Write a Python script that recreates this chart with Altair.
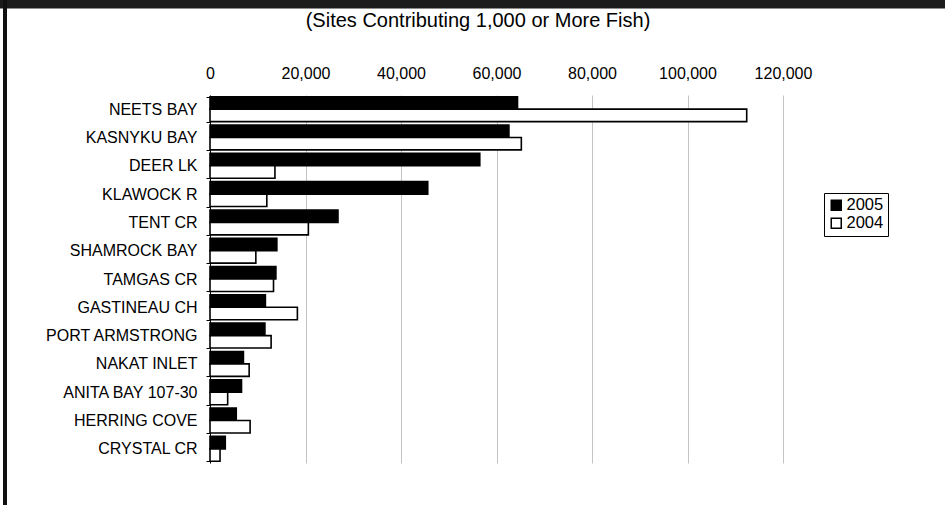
import altair as alt
import pandas as pd

SP = "\u2005"
sites = ["NEETS BAY", "KASNYKU BAY", "DEER LK", "KLAWOCK R" + SP, "TENT CR" + SP, "SHAMROCK BAY",
         "TAMGAS CR", "GASTINEAU CH" + SP, "PORT ARMSTRONG", "NAKAT INLET", "ANITA BAY 107-30",
         "HERRING COVE", "CRYSTAL CR" + SP]
v2005 = [64400, 62600, 56500, 45600, 26800, 14000, 13800, 11600, 11500, 7000, 6600, 5500, 3200]
v2004 = [112400, 65200, 13600, 11900, 20600, 9600, 13300, 18300, 12800, 8200, 3700, 8400, 2100]
years = ["2005", "2004"]
ticks = [0, 20000, 40000, 60000, 80000, 100000, 120000]
title_text = "(Sites Contributing 1,000 or More Fish)"

rows = []
for s, a, b in zip(sites, v2005, v2004):
    rows.append({"site": s, "year": "2005", "value": a})
    rows.append({"site": s, "year": "2004", "value": b})
df = pd.DataFrame(rows)

FONT = "Liberation Sans"
W, H = 573, 368

bars = alt.Chart(df).mark_bar(stroke="black", strokeWidth=1.6).encode(
    y=alt.Y("site:N", sort=sites, title=None,
            scale=alt.Scale(paddingInner=0.12, paddingOuter=0.06),
            axis=alt.Axis(labelFont=FONT, labelFontSize=16, labelColor="black",
                          tickBand="extent", tickSize=4, tickColor="black",
                          domainColor="black", labelPadding=9, grid=False)),
    yOffset=alt.YOffset("year:N", sort=years, scale=alt.Scale(paddingInner=0, paddingOuter=0)),
    x=alt.X("value:Q", title=None,
            scale=alt.Scale(domain=[0, 120000], nice=False),
            axis=alt.Axis(orient="top", values=ticks, format=",d", labelFont=FONT,
                          labelFontSize=16, labelColor="black", ticks=False, domain=False,
                          labelFlush=False, labelOverlap=False,
                          labelPadding=14, gridColor="#c4c4c4", gridWidth=1)),
    color=alt.Color("year:N", sort=years,
                    scale=alt.Scale(domain=years, range=["black", "white"]),
                    legend=alt.Legend(title=None, orient="none", legendX=614, legendY=98,
                                      symbolType="square", symbolSize=100,
                                      symbolStrokeColor="black", symbolStrokeWidth=1.5,
                                      labelFont=FONT, labelFontSize=16.5, labelColor="black",
                                      strokeColor="black", padding=4, rowPadding=1,
                                      labelOffset=2)),
)

title_df = pd.DataFrame({"t": [title_text]})
title = alt.Chart(title_df).mark_text(font=FONT, fontSize=20, color="black",
                                      align="center", baseline="middle").encode(
    text="t:N", x=alt.value(268), y=alt.value(-74))

band = alt.Chart(title_df).mark_rect(color="#1c1c1c").encode(
    x=alt.value(-210), x2=alt.value(735), y=alt.value(-95), y2=alt.value(-86.5))
border = alt.Chart(title_df).mark_rect(color="#111111").encode(
    x=alt.value(-207), x2=alt.value(-203), y=alt.value(-95), y2=alt.value(410))

chart = alt.layer(band, border, bars, title).properties(
    width=W, height=H,
    autosize=alt.AutoSizeParams(type="none"),
    padding={"left": 210, "top": 95, "right": 945 - 210 - W, "bottom": 505 - 95 - H},
    background="white",
).configure_view(stroke=None)

chart.save("out.html", embed_options={"renderer": "svg", "actions": False})
